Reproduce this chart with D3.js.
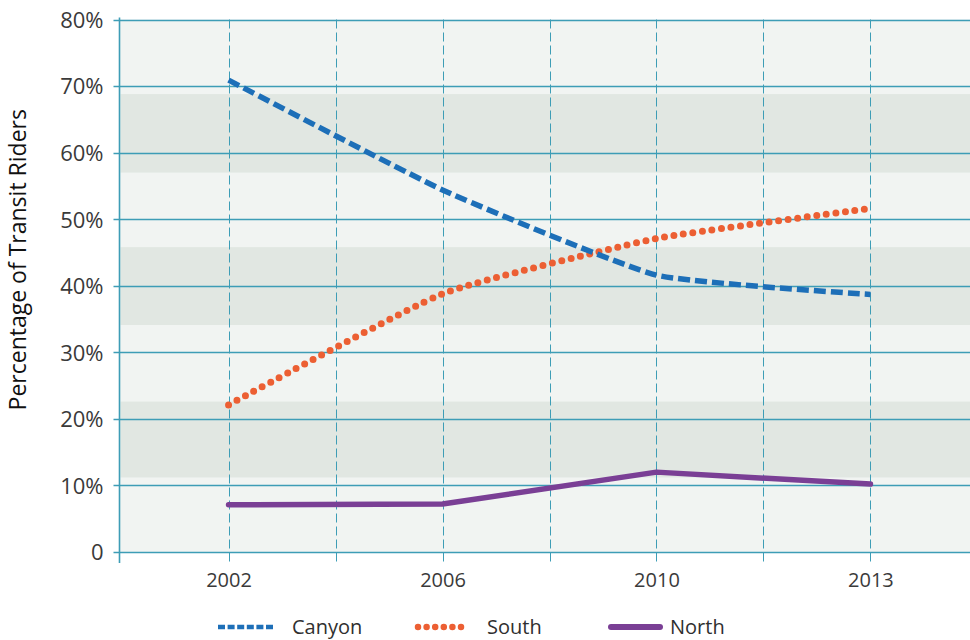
<!DOCTYPE html>
<html>
<head>
<meta charset="utf-8">
<script src="https://cdn.jsdelivr.net/npm/d3@7"></script>
<style>
  html, body { margin: 0; padding: 0; background: #ffffff; }
  svg { display: block; font-family: "Open Sans", "Noto Sans", sans-serif; }
</style>
</head>
<body>
<svg id="chart" width="970" height="640"></svg>
<script>
// Survey years shown on the x axis
const years = ["2002", "2006", "2010", "2013"];

// Share of transit riders (%) by area
const canyon = [70.9, 54.4, 41.6, 38.7];
const south  = [22.1, 38.8, 47.1, 51.6];
const north  = [7.1, 7.2, 12.0, 10.2];

// Y axis ticks and shaded background bands (in % units)
const yTicks = [0, 10, 20, 30, 40, 50, 60, 70, 80];
const bands = [[11.2, 22.6], [34.1, 45.8], [57.0, 68.8]];

const seriesNames = ["Canyon", "South", "North"];

const svg = d3.select("#chart");
const W = 970, H = 640;
const margin = { left: 119.5, right: 0, top: 19.5, bottom: 88 };
const plotBottom = 552;

// Point scale over the years plus one empty slot on each side, so the
// gridlines fall at the category centres and halfway between them.
const x = d3.scalePoint()
  .domain(["_pre", ...years, "_post"])
  .range([228.5 - 213.9, 870.5 + 213.9]);
const y = d3.scaleLinear().domain([0, 80]).range([plotBottom, margin.top]);

const gridColor = "#3d9db6";

// Plot background
svg.append("rect")
  .attr("x", margin.left).attr("y", y(80))
  .attr("width", W - margin.left).attr("height", y(0) - y(80))
  .attr("fill", "#f1f4f2");

// Darker alternating bands
svg.append("g").selectAll("rect").data(bands).join("rect")
  .attr("x", margin.left + 1)
  .attr("y", d => y(d[1]))
  .attr("width", W - margin.left)
  .attr("height", d => y(d[0]) - y(d[1]))
  .attr("fill", "#e1e7e2");

// Vertical dashed gridlines at each year and midway between years
const step = x.step();
const vLines = [];
years.forEach((yr, i) => {
  vLines.push(x(yr));
  if (i < years.length - 1) vLines.push(x(yr) + step / 2);
});
vLines.push(x(years[years.length - 1]) + step / 2);
svg.append("g").selectAll("line").data(vLines).join("line")
  .attr("x1", d => Math.round(d) + 0.5).attr("x2", d => Math.round(d) + 0.5)
  .attr("y1", y(80)).attr("y2", plotBottom + 11)
  .attr("stroke", gridColor).attr("stroke-width", 1)
  .attr("stroke-dasharray", "9,4");

// Horizontal gridlines
svg.append("g").selectAll("line").data(yTicks).join("line")
  .attr("x1", margin.left - 6).attr("x2", W)
  .attr("y1", d => Math.round(y(d)) + 0.5).attr("y2", d => Math.round(y(d)) + 0.5)
  .attr("stroke", gridColor).attr("stroke-width", 1.4);

// Y axis line
svg.append("line")
  .attr("x1", margin.left).attr("x2", margin.left)
  .attr("y1", y(80) - 2).attr("y2", plotBottom + 11)
  .attr("stroke", gridColor).attr("stroke-width", 1.6);

// Y axis labels
const yAxis = d3.axisLeft(y).tickValues(yTicks).tickSize(0).tickPadding(0)
  .tickFormat(d => d === 0 ? "0" : d + "%");
const gy = svg.append("g").attr("transform", `translate(${margin.left - 16},0)`).call(yAxis);
gy.select(".domain").remove();
gy.selectAll("text")
  .attr("font-size", 22).attr("fill", "#3a3a3a")
  .attr("font-family", "'Open Sans', sans-serif")
  .attr("dy", "0.36em");

// X axis labels
const xAxis = d3.axisBottom(x).tickValues(years).tickSize(0).tickPadding(0);
const gx = svg.append("g").attr("transform", `translate(0,${plotBottom + 20})`).call(xAxis);
gx.select(".domain").remove();
gx.selectAll("text")
  .attr("font-size", 20).attr("fill", "#3a3a3a")
  .attr("font-family", "'Open Sans', sans-serif")
  .attr("dy", "0.75em");

// Y axis title
svg.append("text")
  .attr("transform", `translate(26,${(y(80) + plotBottom) / 2 - 26}) rotate(-90)`)
  .attr("text-anchor", "middle")
  .attr("font-size", 23).attr("fill", "#111")
  .text("Percentage of Transit Riders");

// Series lines
const styles = {
  Canyon: { color: "#1d6fb8", width: 5.5, dash: "12,5", cap: "butt", curve: d3.curveCardinal.tension(0.55) },
  South:  { color: "#ec5f33", width: 7, dash: "0,9.6", cap: "round", curve: d3.curveCardinal.tension(0.55) },
  North:  { color: "#7a3f95", width: 5.5, dash: null, cap: "round", curve: d3.curveLinear }
};
const seriesData = { Canyon: canyon, South: south, North: north };

seriesNames.slice().reverse().forEach(name => {
  const s = styles[name];
  const line = d3.line()
    .x((d, i) => x(years[i]))
    .y(d => y(d))
    .curve(s.curve);
  svg.append("path")
    .datum(seriesData[name])
    .attr("d", line)
    .attr("fill", "none")
    .attr("stroke", s.color)
    .attr("stroke-width", s.width)
    .attr("stroke-linecap", s.cap)
    .attr("stroke-linejoin", "round")
    .attr("stroke-dasharray", s.dash);
});

// Legend
const legendY = 627;
const legendItems = [
  { name: "Canyon", x0: 218, x1: 275, tx: 292 },
  { name: "South",  x0: 418, x1: 468, tx: 487 },
  { name: "North",  x0: 611, x1: 660, tx: 670 }
];
const lg = svg.append("g");
legendItems.forEach(it => {
  const s = styles[it.name];
  lg.append("line")
    .attr("x1", it.x0).attr("x2", it.x1)
    .attr("y1", legendY).attr("y2", legendY)
    .attr("stroke", s.color)
    .attr("stroke-width", it.name === "North" ? 6 : (it.name === "South" ? 6.5 : 4.5))
    .attr("stroke-linecap", s.cap)
    .attr("stroke-dasharray", it.name === "Canyon" ? "7,2.6" : (it.name === "South" ? "0,8.6" : null));
  lg.append("text")
    .attr("x", it.tx).attr("y", legendY)
    .attr("dy", "0.36em")
    .attr("font-size", 20).attr("fill", "#2f2f2f")
    .text(it.name);
});
</script>
</body>
</html>
